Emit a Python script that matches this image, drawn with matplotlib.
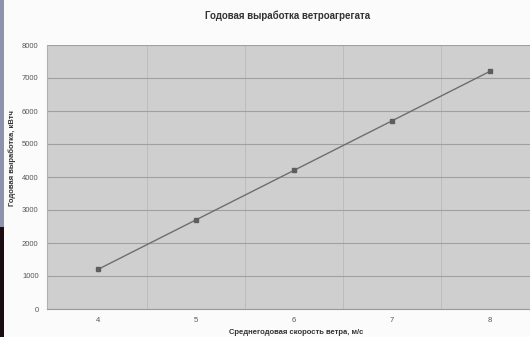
import matplotlib
matplotlib.use("Agg")
import matplotlib.pyplot as plt
from matplotlib.patches import Rectangle

wind_speed = [4, 5, 6, 7, 8]
annual_output = [1200, 2700, 4200, 5700, 7200]
y_ticks = [0, 1000, 2000, 3000, 4000, 5000, 6000, 7000, 8000]

title = "Годовая выработка ветроагрегата"
x_label = "Среднегодовая скорость ветра, м/с"
y_label = "Годовая выработка, кВтч"

plt.rcParams['font.family'] = ['Liberation Sans', 'DejaVu Sans']

fig = plt.figure(figsize=(5.3, 3.37), dpi=100)
fig.patch.set_facecolor('#fbfbfb')

# left edge strips (scan artifacts)
fig.patches.append(Rectangle((0, 0.325), 0.007, 0.675, transform=fig.transFigure,
                             facecolor='#8d93aa', edgecolor='none'))
fig.patches.append(Rectangle((0, 0), 0.007, 0.325, transform=fig.transFigure,
                             facecolor='#1a0c10', edgecolor='none'))

ax = fig.add_axes([47/530, 28/337, 1 - 47/530, 264/337])
ax.set_facecolor('#cfcfcf')

ax.plot(wind_speed, annual_output, color='#6e6e6e', lw=1.0,
        marker='s', markersize=3.5, markerfacecolor='#5e5e5e',
        markeredgecolor='#5e5e5e', zorder=3)

ax.set_xlim(3.48, 8.41)
ax.set_ylim(0, 8000)
ax.set_xticks(wind_speed)
ax.set_xticklabels([str(v) for v in wind_speed])
ax.set_yticks(y_ticks)

ax.yaxis.grid(True, color='#a0a0a0', lw=0.8)
ax.set_xticks([4.5, 5.5, 6.5, 7.5], minor=True)
ax.xaxis.grid(True, which='minor', color='#bdbdbd', lw=0.7)
ax.set_axisbelow(True)

ax.tick_params(axis='both', which='both', length=0, labelsize=5.5, colors='#555555')
ax.tick_params(axis='x', pad=6)
ax.tick_params(axis='y', pad=6)

for s in ['top', 'right']:
    ax.spines[s].set_visible(False)
ax.spines['left'].set_color('#b0b0b0')
ax.spines['bottom'].set_color('#9a9a9a')
ax.spines['left'].set_linewidth(0.8)
ax.spines['bottom'].set_linewidth(0.8)

fig.text(288/530, 1 - 16/337, title, ha='center', va='center',
         fontsize=7, fontweight='bold', color='#333333')
fig.text(296/530, 1 - 332/337, x_label, ha='center', va='center',
         fontsize=5.5, fontweight='bold', color='#333333')
fig.text(12/530, 1 - 158/337, y_label, ha='center', va='center', rotation=90,
         fontsize=5.5, fontweight='bold', color='#333333')

fig.savefig('out.png', dpi=100, facecolor=fig.get_facecolor())
